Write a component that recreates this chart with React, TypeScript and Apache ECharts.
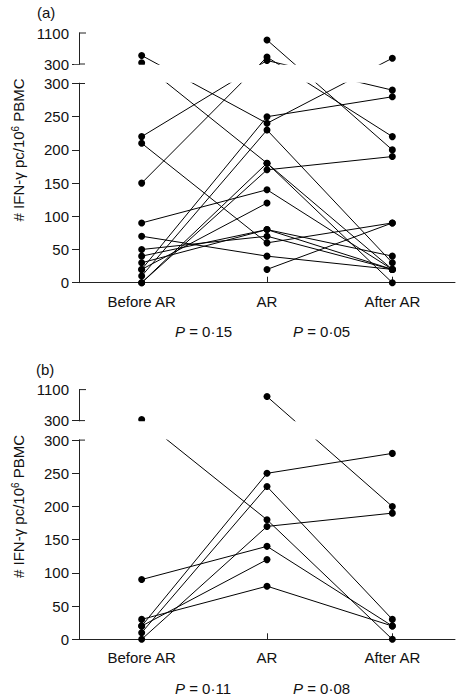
import React, { useEffect, useRef } from "react";
import * as echarts from "echarts";

const categories = ["Before AR", "AR", "After AR"];

// Panel (a): one entry per subject (Before AR, AR, After AR)
const beforeA = [520, 330, 220, 150, null, 210, 90, 70, 50, 20, 30, 0, 10, 20, 0, null, 40];
const arA = [240, 180, 390, 480, 920, 60, 140, 40, 70, 120, 80, 170, 230, 250, 180, 20, 80];
const afterA = [450, 0, 290, 220, 200, 90, 20, 20, 20, null, 20, 190, 30, 280, 20, 90, 40];

// Panel (b)
const beforeB = [330, 90, 30, 20, 20, 10, 0, null];
const arB = [180, 140, 80, 120, 250, 230, 170, 920];
const afterB = [0, 20, 20, null, 280, 30, 190, 200];

const lowerTicks = [0, 50, 100, 150, 200, 250, 300];
const upperTicks = [300, 1100];
const pLabelsA = ["0·15", "0·05"];
const pLabelsB = ["0·11", "0·08"];

const FONT = "'Liberation Sans', Arial, Helvetica, sans-serif";
const LOW = 199.2; // px for 0..300
const GAP = 19.5; // px of the break
const UP = 31; // px for 300..1100
const H = LOW + GAP + UP;
const TOP_A = 33;
const TOP_B = 389.6;
const LEFT = 79;

function brk(v: number | null): number | null {
  if (v == null) return null;
  return v <= 300 ? (v / 300) * LOW : LOW + GAP + ((v - 300) / 800) * UP;
}
function unbrk(t: number): number {
  if (t <= LOW + 1) return Math.round((t * 300) / LOW);
  return Math.round(300 + ((t - LOW - GAP) * 800) / UP);
}

const labelVals = [...lowerTicks.map((v) => brk(v) as number), LOW + GAP, brk(1100) as number];
const tickVals = [...lowerTicks.map((v) => brk(v) as number), LOW + GAP];

function yAxisFor(idx: number) {
  return {
    type: "value",
    gridIndex: idx,
    min: 0,
    max: H,
    splitLine: { show: false },
    axisLine: { show: true, onZero: false, lineStyle: { color: "#222", width: 1 } },
    axisTick: { show: true, length: 7, customValues: tickVals, lineStyle: { color: "#222" } },
    axisLabel: {
      customValues: labelVals,
      formatter: (val: number) => String(unbrk(val)),
      fontSize: 15,
      fontFamily: FONT,
      color: "#111",
      margin: 10,
    },
    name: "# IFN-γ pc/10{sup|6} PBMC",
    nameLocation: "middle",
    nameRotate: 90,
    nameGap: 52,
    nameTextStyle: {
      fontSize: 15,
      fontFamily: FONT,
      color: "#111",
      padding: [0, 0, 0, 16],
      rich: {
        sup: { fontSize: 10, fontFamily: FONT, color: "#111", verticalAlign: "top", lineHeight: 10 },
      },
    },
  };
}

function xAxisFor(idx: number) {
  return {
    type: "category",
    gridIndex: idx,
    data: categories,
    boundaryGap: true,
    axisLine: { show: true, lineStyle: { color: "#222", width: 1 } },
    axisTick: { show: true, inside: true, alignWithLabel: true, length: 6, lineStyle: { color: "#222" } },
    axisLabel: { fontSize: 15, fontFamily: FONT, color: "#111", margin: 11 },
    splitLine: { show: false },
  };
}

function seriesFor(before: (number | null)[], ar: (number | null)[], after: (number | null)[], idx: number) {
  return before.map((b, i) => ({
    type: "line",
    xAxisIndex: idx,
    yAxisIndex: idx,
    data: [brk(b), brk(ar[i]), brk(after[i])],
    symbol: "circle",
    symbolSize: 7,
    showSymbol: true,
    connectNulls: false,
    silent: true,
    itemStyle: { color: "#000" },
    lineStyle: { color: "#000", width: 1 },
    emphasis: { disabled: true },
    z: 3,
  }));
}

function breakGraphics(top: number) {
  const yU = top + UP;
  const yL = top + UP + GAP;
  const cap = (y: number, len: number) => ({
    type: "line",
    z: 101,
    silent: true,
    shape: { x1: LEFT, y1: y, x2: LEFT + len, y2: y },
    style: { stroke: "#222", lineWidth: 1 },
  });
  return [
    {
      type: "rect",
      z: 100,
      silent: true,
      shape: { x: 74, y: yU + 0.7, width: 384, height: GAP - 1.4 },
      style: { fill: "#fff" },
    },
    cap(top, 7),
    cap(yU, 6),
    cap(yL, 6),
  ];
}

function textG(text: string, x: number, y: number, rich?: any) {
  return {
    type: "text",
    z: 102,
    silent: true,
    x,
    y,
    style: {
      text,
      fontSize: 15,
      fontFamily: FONT,
      fill: "#111",
      align: "left",
      verticalAlign: "middle",
      textAlign: "left",
      textVerticalAlign: "middle",
      rich,
    },
  };
}

const pRich = {
  i: { fontSize: 15, fontFamily: FONT, fontStyle: "italic", color: "#111" },
  n: { fontSize: 15, fontFamily: FONT, color: "#111" },
};

export default function App() {
  const ref = useRef<HTMLDivElement>(null);
  useEffect(() => {
    if (!ref.current) return;
    const chart = echarts.init(ref.current, null, { renderer: "svg" });
    chart.setOption({
      animation: false,
      backgroundColor: "#fff",
      grid: [
        { left: LEFT, right: 3, top: TOP_A, height: H },
        { left: LEFT, right: 3, top: TOP_B, height: H },
      ],
      xAxis: [xAxisFor(0), xAxisFor(1)],
      yAxis: [yAxisFor(0), yAxisFor(1)],
      series: [...seriesFor(beforeA, arA, afterA, 0), ...seriesFor(beforeB, arB, afterB, 1)],
      graphic: [
        ...breakGraphics(TOP_A),
        ...breakGraphics(TOP_B),
        textG("(a)", 37, 12),
        textG("(b)", 36, 369),
        textG(`{i|P}{n| = ${pLabelsA[0]}}`, 175, 331.7, pRich),
        textG(`{i|P}{n| = ${pLabelsA[1]}}`, 293, 331.7, pRich),
        textG(`{i|P}{n| = ${pLabelsB[0]}}`, 175, 688.3, pRich),
        textG(`{i|P}{n| = ${pLabelsB[1]}}`, 293, 688.3, pRich),
      ],
    });
    return () => chart.dispose();
  }, []);
  return (
    <div
      ref={ref}
      style={{ position: "absolute", left: 0, top: 0, width: 458, height: 698, background: "#fff" }}
    />
  );
}
